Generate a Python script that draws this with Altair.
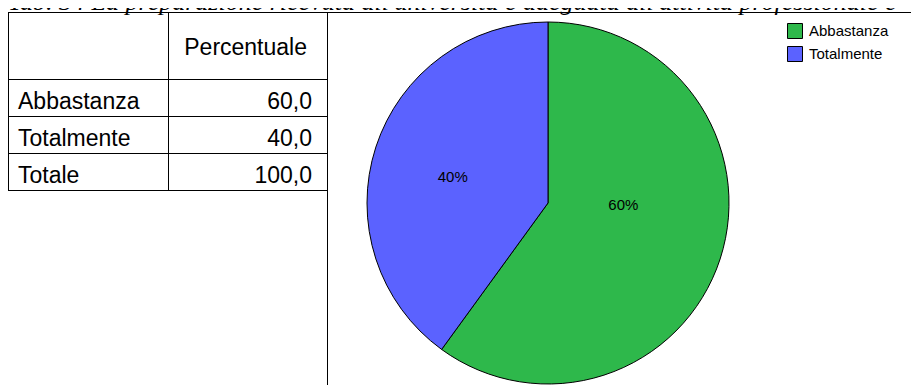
import altair as alt
import pandas as pd

# ---- data ----
title_text = ["Tab. 34 La preparazione ricevuta all'università è adeguata all'attività professionale c"]
header_label = ["Percentuale"]
categories = ["Abbastanza", "Totalmente"]
percent = [60.0, 40.0]
total_label = "Totale"
total_value = 100.0
colors = ["#2eb84b", "#5b62ff"]

# ---- layout ----
W, H = 903, 377
CX, CY, R = 540, 195, 181
row_scale = alt.Scale(domain=[0, 3], range=[71.5, 182.5], zero=False, nice=False)

pie_df = pd.DataFrame({"categoria": categories, "percentuale": percent,
                       "ordine": list(range(len(categories)))})
rows = categories + [total_label]
table_df = pd.DataFrame({"riga": rows, "valore": percent + [total_value],
                         "pos": list(range(1, len(rows) + 1))})
bounds_df = pd.DataFrame({"b": list(range(len(rows) + 1))})

base_pie = alt.Chart(pie_df).transform_joinaggregate(
    tot="sum(percentuale)"
).transform_window(
    cum="sum(percentuale)", sort=[alt.SortField("ordine")], frame=[None, 0]
).transform_calculate(
    t0="(datum.cum - datum.percentuale) / datum.tot * 2 * PI",
    t1="datum.cum / datum.tot * 2 * PI",
    tm="(datum.cum - datum.percentuale / 2) / datum.tot * 2 * PI",
    etichetta="format(datum.percentuale, '.0f') + '%'",
)

arc = base_pie.mark_arc(stroke="black", strokeWidth=1).encode(
    theta=alt.Theta("t0:Q", scale=None),
    theta2="t1:Q",
    x=alt.value(CX), y=alt.value(CY), radius=alt.value(R),
    color=alt.Color(
        "categoria:N",
        scale=alt.Scale(domain=categories, range=colors),
        legend=alt.Legend(
            title=None, orient="none", legendX=779, legendY=15, padding=0,
            symbolType="square", symbolSize=225, symbolStrokeColor="black",
            symbolStrokeWidth=1, symbolOpacity=1, labelFontSize=15,
            labelFont="Liberation Sans", labelColor="black", labelOffset=6,
            rowPadding=3,
        ),
    ),
)

def pie_label(cat, radius, dx, dy):
    return base_pie.transform_filter(alt.datum.categoria == cat).mark_text(
        radius=radius, dx=dx, dy=dy, fontSize=15, font="Liberation Sans",
        color="black", align="center", baseline="middle",
    ).encode(
        theta=alt.Theta("tm:Q", scale=None),
        x=alt.value(CX), y=alt.value(CY), text="etichetta:N",
    )

lab_a = pie_label(categories[0], 75, 4, -21)
lab_b = pie_label(categories[1], 98, -2, 4)

# ---- table ----
tbl = alt.Chart(table_df).transform_calculate(
    vtxt="replace(format(datum.valore, '.1f'), '.', ',')"
)
row_txt = tbl.mark_text(align="left", baseline="alphabetic", dy=-7.5,
                        fontSize=23, font="Liberation Sans", color="black").encode(
    x=alt.value(10), y=alt.Y("pos:Q", scale=row_scale, axis=None), text="riga:N")
val_txt = tbl.mark_text(align="right", baseline="alphabetic", dy=-7.5,
                        fontSize=23, font="Liberation Sans", color="black").encode(
    x=alt.value(304), y=alt.Y("pos:Q", scale=row_scale, axis=None), text="vtxt:N")

hdr = alt.Chart(pd.DataFrame({"h": header_label})).mark_text(
    align="right", baseline="alphabetic", fontSize=23, font="Liberation Sans", color="black"
).encode(x=alt.value(299), y=alt.value(47), text="h:N")

hlines = alt.Chart(bounds_df).mark_rule(color="black", strokeWidth=1).encode(
    y=alt.Y("b:Q", scale=row_scale, axis=None), x=alt.value(0), x2=alt.value(320))

frame_df = pd.DataFrame({"k": [0]})
top_line = alt.Chart(frame_df).mark_rule(color="black", strokeWidth=1).encode(
    y=alt.value(4.5), x=alt.value(0), x2=alt.value(W + 8))
v1 = alt.Chart(frame_df).mark_rule(color="black", strokeWidth=1).encode(
    x=alt.value(0.5), y=alt.value(4.5), y2=alt.value(183))
v2 = alt.Chart(frame_df).mark_rule(color="black", strokeWidth=1).encode(
    x=alt.value(160.5), y=alt.value(4.5), y2=alt.value(183))
v3 = alt.Chart(frame_df).mark_rule(color="black", strokeWidth=1).encode(
    x=alt.value(319.5), y=alt.value(4.5), y2=alt.value(H))

title = alt.Chart(pd.DataFrame({"t": title_text})).mark_text(
    align="left", baseline="alphabetic", fontSize=26, font="Liberation Serif",
    fontStyle="italic", color="black"
).encode(x=alt.value(0), y=alt.value(2), text="t:N")

chart = alt.layer(
    arc, lab_a, lab_b, hlines, top_line, v1, v2, v3, row_txt, val_txt, hdr, title
).properties(
    width=W, height=H, padding=0, autosize=alt.AutoSizeParams(type="none"),
    background="white",
).configure_view(stroke=None)

chart.save("out.html", embed_options={"renderer": "svg", "actions": False})
